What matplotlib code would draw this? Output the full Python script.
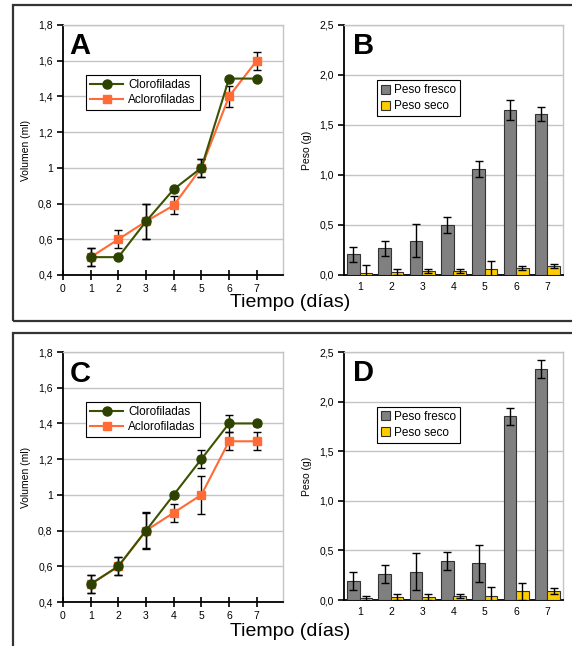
import matplotlib
matplotlib.use("Agg")
import matplotlib.pyplot as plt
from matplotlib.patches import Rectangle
from matplotlib.lines import Line2D
from matplotlib.ticker import FuncFormatter
import numpy as np

plt.rcParams['font.family'] = ['Liberation Sans', 'DejaVu Sans']

dias = [1, 2, 3, 4, 5, 6, 7]

# Volumen (ml) - experimento 1
vol1_cloro = [0.5, 0.5, 0.7, 0.88, 1.0, 1.5, 1.5]
vol1_cloro_err = [0.05, 0.0, 0.1, 0.01, 0.05, 0.01, 0.01]
vol1_acloro = [0.5, 0.6, 0.7, 0.79, 1.0, 1.4, 1.6]
vol1_acloro_err = [0.05, 0.05, 0.1, 0.05, 0.05, 0.06, 0.05]

# Peso (g) - experimento 1
peso1_fresco = [0.21, 0.27, 0.345, 0.50, 1.06, 1.655, 1.615]
peso1_fresco_err = [0.075, 0.075, 0.165, 0.08, 0.08, 0.10, 0.07]
peso1_seco = [0.02, 0.03, 0.04, 0.045, 0.06, 0.075, 0.095]
peso1_seco_err = [0.08, 0.03, 0.02, 0.02, 0.08, 0.02, 0.02]

# Volumen (ml) - experimento 2
vol2_cloro = [0.5, 0.6, 0.8, 1.0, 1.2, 1.4, 1.4]
vol2_cloro_err = [0.05, 0.05, 0.105, 0.01, 0.05, 0.05, 0.015]
vol2_acloro = [0.5, 0.6, 0.8, 0.9, 1.0, 1.3, 1.3]
vol2_acloro_err = [0.05, 0.05, 0.1, 0.05, 0.105, 0.05, 0.05]

# Peso (g) - experimento 2
peso2_fresco = [0.195, 0.26, 0.285, 0.39, 0.37, 1.85, 2.33]
peso2_fresco_err = [0.09, 0.09, 0.185, 0.09, 0.185, 0.09, 0.09]
peso2_seco = [0.025, 0.035, 0.035, 0.045, 0.045, 0.09, 0.095]
peso2_seco_err = [0.02, 0.03, 0.03, 0.02, 0.09, 0.085, 0.03]

VERDE = '#2e4200'
VERDE_LINEA = '#3b5200'
NARANJA = '#ff6a35'
GRIS = '#808080'
AMARILLO = '#ffcc00'
GRID = '#c4c4c4'

W, H = 572, 646
fig = plt.figure(figsize=(W / 100, H / 100), dpi=100)


def px_axes(x0, y0, x1, y1):
    return fig.add_axes([x0 / W, 1 - y1 / H, (x1 - x0) / W, (y1 - y0) / H])


def coma(v, _):
    if abs(v - round(v)) < 1e-9 and v >= 1:
        return f"{int(round(v))}"
    return f"{v:.1f}".replace('.', ',')


def coma1(v, _):
    return f"{v:.1f}".replace('.', ',')


def estilo(ax):
    for s in ('top', 'right'):
        ax.spines[s].set_color(GRID)
        ax.spines[s].set_linewidth(1.0)
    for s in ('left', 'bottom'):
        ax.spines[s].set_color('black')
        ax.spines[s].set_linewidth(1.3)
    ax.yaxis.grid(True, color=GRID, linewidth=1.0)
    ax.set_axisbelow(True)
    ax.tick_params(labelsize=7.5, colors='black', length=4, width=1.2)


def panel_lineas(ax, c, ce, a, ae, letra):
    estilo(ax)
    ax.errorbar(dias, a, yerr=ae, color=NARANJA, marker='s', markersize=5.5,
                linewidth=1.5, ecolor='black', elinewidth=1.0, capsize=3,
                capthick=1.0, zorder=3)
    ax.errorbar(dias, c, yerr=ce, color=VERDE_LINEA, marker='o', markersize=6.5,
                markerfacecolor=VERDE, markeredgecolor=VERDE,
                linewidth=1.5, ecolor='black', elinewidth=1.0, capsize=3,
                capthick=1.0, zorder=4)
    ax.set_xlim(0, 7.95)
    ax.set_ylim(0.4, 1.8)
    ax.set_xticks(range(0, 8))
    ax.set_yticks(np.arange(0.4, 1.81, 0.2))
    ax.yaxis.set_major_formatter(FuncFormatter(coma))
    ax.tick_params(axis='x', direction='inout', length=7, pad=3)
    ax.set_ylabel('Volumen (ml)', fontsize=7.5, labelpad=5)
    handles = [
        Line2D([], [], color=VERDE_LINEA, marker='o', markersize=6.5,
               markerfacecolor=VERDE, markeredgecolor=VERDE, linewidth=1.5),
        Line2D([], [], color=NARANJA, marker='s', markersize=5.5, linewidth=1.5),
    ]
    leg = ax.legend(handles, ['Clorofiladas', 'Aclorofiladas'], loc='upper left',
                    bbox_to_anchor=(0.105, 0.80),
                    fontsize=8.5, frameon=True, fancybox=False, edgecolor='black',
                    framealpha=1, borderpad=0.35, handlelength=2.8,
                    handletextpad=0.4, labelspacing=0.25, borderaxespad=0)
    leg.get_frame().set_linewidth(0.8)
    ax.text(0.03, 0.97, letra, transform=ax.transAxes, fontsize=21,
            fontweight='bold', va='top', ha='left')


def panel_barras(ax, f, fe, s, se, letra):
    estilo(ax)
    x = np.array(dias)
    ek = dict(ecolor='black', elinewidth=1.0, capsize=3, capthick=1.0)
    ax.bar(x - 0.2, f, width=0.4, color=GRIS, edgecolor='#333333', linewidth=0.8,
           yerr=fe, error_kw=ek, label='Peso fresco', zorder=3)
    ax.bar(x + 0.2, s, width=0.4, color=AMARILLO, edgecolor='#333333', linewidth=0.8,
           yerr=se, error_kw=ek, label='Peso seco', zorder=3)
    ax.set_xlim(0.5, 7.5)
    ax.set_ylim(0, 2.5)
    ax.set_xticks(dias)
    ax.set_yticks(np.arange(0, 2.51, 0.5))
    ax.yaxis.set_major_formatter(FuncFormatter(coma1))
    ax.tick_params(axis='x', length=0, pad=5)
    ax.set_ylabel('Peso (g)', fontsize=7.5, labelpad=5)
    leg = ax.legend(loc='upper left', bbox_to_anchor=(0.15, 0.78),
                    fontsize=8.5, frameon=True, fancybox=False, edgecolor='black',
                    framealpha=1, borderpad=0.35, handlelength=0.8, handleheight=0.8,
                    handletextpad=0.3, labelspacing=0.35, borderaxespad=0)
    leg.get_frame().set_linewidth(0.8)
    ax.text(0.04, 0.97, letra, transform=ax.transAxes, fontsize=21,
            fontweight='bold', va='top', ha='left')


# marcos de los dos bloques
for (y0, y1) in ((5, 321), (333, 660)):
    fig.patches.append(Rectangle((12.5 / W, 1 - y1 / H), (600 - 12.5) / W, (y1 - y0) / H,
                                 transform=fig.transFigure, fill=False,
                                 edgecolor='#333333', linewidth=1.6, clip_on=False))

axA = px_axes(63, 25, 283, 275)
axB = px_axes(344, 25, 563, 275)
axC = px_axes(63, 352, 283, 602)
axD = px_axes(344, 352, 563, 600)

panel_lineas(axA, vol1_cloro, vol1_cloro_err, vol1_acloro, vol1_acloro_err, 'A')
panel_barras(axB, peso1_fresco, peso1_fresco_err, peso1_seco, peso1_seco_err, 'B')
panel_lineas(axC, vol2_cloro, vol2_cloro_err, vol2_acloro, vol2_acloro_err, 'C')
panel_barras(axD, peso2_fresco, peso2_fresco_err, peso2_seco, peso2_seco_err, 'D')

fig.text(290 / W, 1 - 302 / H, 'Tiempo (días)', fontsize=14, ha='center', va='center')
fig.text(290 / W, 1 - 632 / H, 'Tiempo (días)', fontsize=14, ha='center', va='center')

fig.savefig('out.png', dpi=100)
